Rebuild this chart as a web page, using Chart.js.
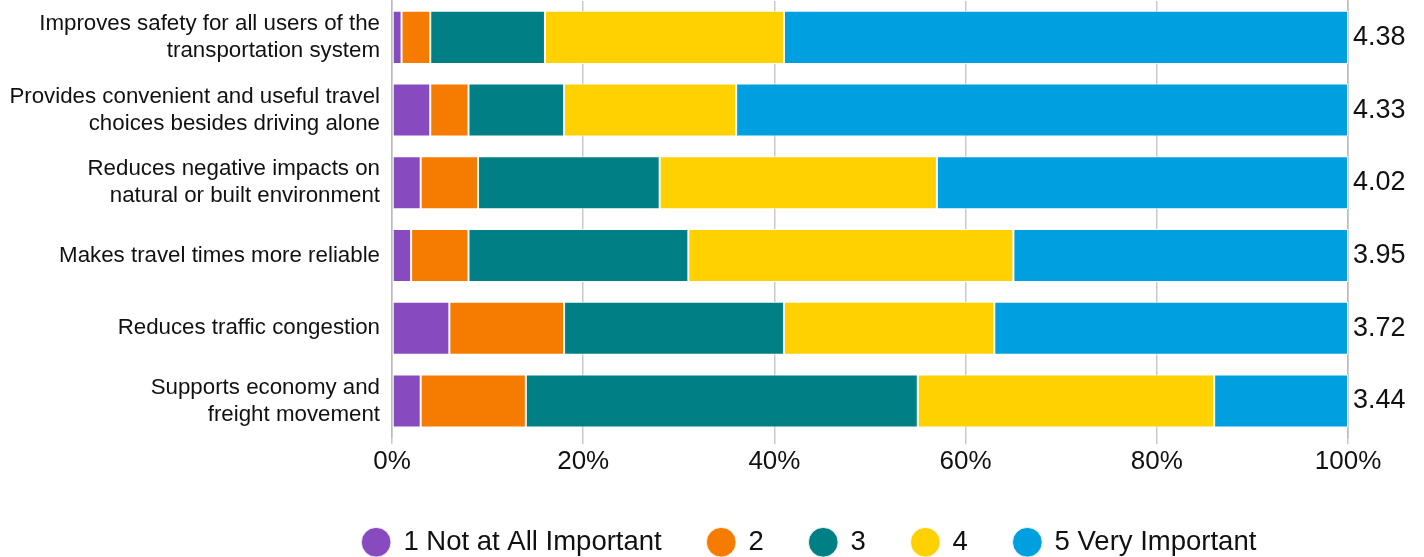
<!DOCTYPE html>
<html>
<head>
<meta charset="utf-8">
<title>Transportation priorities</title>
<script src="https://cdn.jsdelivr.net/npm/chart.js@4"></script>
<style>
  html, body { margin: 0; padding: 0; background: #fff; }
  #wrap { width: 1424px; height: 557px; position: relative; }
</style>
</head>
<body>
<div id="wrap"><canvas id="ratingChart"></canvas></div>
<script>
// Survey statements (multi-line labels)
const statements = [
  ['Improves safety for all users of the', 'transportation system'],
  ['Provides convenient and useful travel', 'choices besides driving alone'],
  ['Reduces negative impacts on', 'natural or built environment'],
  ['Makes travel times more reliable'],
  ['Reduces traffic congestion'],
  ['Supports economy and', 'freight movement']
];

// Share of responses (%) for each rating
const notAtAll = [1, 4, 3, 2, 6, 3];
const rating2 = [3, 4, 6, 6, 12, 11];
const rating3 = [12, 10, 19, 23, 23, 41];
const rating4 = [25, 18, 29, 34, 22, 31];
const veryImportant = [59, 64, 43, 35, 37, 14];

// Average score per statement
const averages = [4.38, 4.33, 4.02, 3.95, 3.72, 3.44];

const pctTicks = [0, 20, 40, 60, 80, 100];

const fontFamily = '"Liberation Sans", Arial, sans-serif';

function series(label, data, color) {
  return {
    label: label,
    data: data,
    backgroundColor: color,
    borderColor: 'rgba(255,255,255,0.85)',
    borderWidth: 1,
    borderSkipped: false,
    categoryPercentage: 1,
    barPercentage: 0.73
  };
}

// fixed side-axis widths; category labels shouldn't push the plot down
function sideAxis(width) {
  return function (scale) {
    scale.width = width;
    scale.paddingTop = 0;
    scale.paddingBottom = 0;
  };
}

// nudge the legend so it sits under the plot rather than the full canvas
const legendShift = {
  id: 'legendShift',
  afterLayout(chart) {
    const lg = chart.legend;
    if (!lg) return;
    lg.left += 102;
    lg.right += 102;
    lg.top += 3;
    lg.bottom += 3;
  }
};

const ctx = document.getElementById('ratingChart').getContext('2d');
new Chart(ctx, {
  type: 'bar',
  data: {
    labels: statements,
    datasets: [
      series('1 Not at All Important', notAtAll, '#874BBF'),
      series('2', rating2, '#F57C00'),
      series('3', rating3, '#007F85'),
      series('4', rating4, '#FFD100'),
      series('5 Very Important', veryImportant, '#009FDF')
    ]
  },
  plugins: [legendShift],
  options: {
    indexAxis: 'y',
    responsive: true,
    maintainAspectRatio: false,
    animation: false,
    layout: { padding: { left: 9, right: 18, top: 1, bottom: -6 } },
    scales: {
      x: {
        stacked: true,
        min: 0,
        max: 100,
        afterBuildTicks(axis) {
          axis.ticks = pctTicks.map(v => ({ value: v }));
        },
        grid: { color: '#c9c9c9', lineWidth: 1.5, drawTicks: true, tickLength: 7 },
        border: { display: false },
        ticks: {
          color: '#111',
          font: { family: fontFamily, size: 26 },
          padding: 2,
          callback: v => v + '%'
        }
      },
      y: {
        stacked: true,
        afterFit: sideAxis(383),
        grid: { display: false, drawTicks: false },
        border: { display: true, color: '#bbb', width: 1.5 },
        ticks: {
          color: '#111',
          font: { family: fontFamily, size: 22.3, lineHeight: 1.21 },
          padding: 12
        }
      },
      y2: {
        type: 'category',
        position: 'right',
        offset: true,
        labels: averages.map(a => a.toFixed(2)),
        afterFit: sideAxis(58),
        grid: { display: false, drawTicks: false },
        border: { display: true, color: '#bbb', width: 1.5 },
        ticks: {
          color: '#111',
          font: { family: fontFamily, size: 27 },
          padding: 5
        }
      }
    },
    plugins: {
      tooltip: { enabled: false },
      legend: {
        position: 'bottom',
        labels: {
          usePointStyle: true,
          pointStyle: 'circle',
          boxWidth: 27,
          boxHeight: 21,
          padding: 46,
          color: '#111',
          font: { family: fontFamily, size: 27.5 }
        }
      }
    }
  }
});
</script>
</body>
</html>
